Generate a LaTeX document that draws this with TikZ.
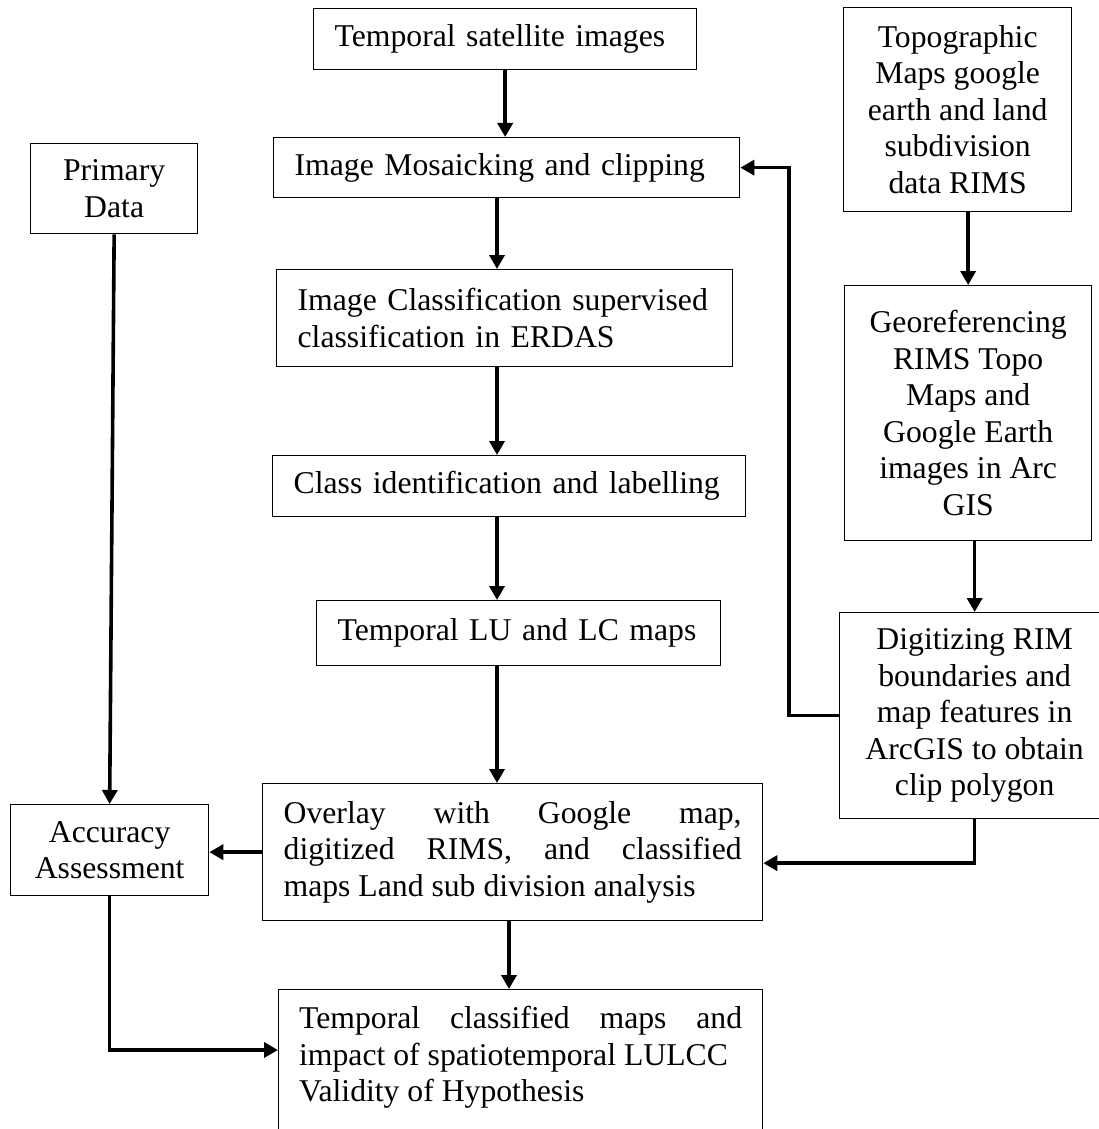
\documentclass[tikz,border=0pt]{standalone}
\usepackage{fontspec}
\setmainfont{Liberation Serif}
\usepackage{tikz}
\usetikzlibrary{arrows.meta, calc}
\newcommand{\boxfont}{\fontsize{31.7}{36.5}\selectfont}
\tikzset{
  stage/.style={rectangle, draw, line width=1.3pt, anchor=north west, align=left, inner xsep=21pt, inner ysep=0pt, font=\boxfont},
  wide/.style={stage, align=justify, inner ysep=17pt},
  source/.style={rectangle, draw, line width=1.3pt, anchor=north west, align=center, inner sep=0pt, font=\boxfont},
  flow/.style={-{Triangle[length=14pt,width=15pt]}, line width=3.6pt},
}
\begin{document}
\begin{tikzpicture}[x=1pt, y=-1pt]
  \useasboundingbox (0,0) rectangle (1099,1129);
  \clip (0,0) rectangle (1099,1129);
  \coordinate (spine) at (497,0);

  % main column
  \node[stage, text width=341pt, minimum height=61pt] (sat) at (313,8) {Temporal satellite images};
  \node[stage, text width=424pt, minimum height=60pt] (mosaic) at (273,137) {Image Mosaicking and clipping};
  \node[stage, text width=414pt, minimum height=97pt] (classify) at (276,269) {Image Classification supervised\\classification in ERDAS};
  \node[stage, text width=431pt, minimum height=61pt] (classid) at (272,455) {Class identification and labelling};
  \node[stage, text width=362pt, minimum height=65pt] (lulc) at (316,600) {Temporal LU and LC maps};
  \node[wide, text width=458pt, minimum height=137pt] (overlay) at (262,783) {Overlay with Google map,\linebreak digitized RIMS, and classified\linebreak maps Land sub division analysis};
  \node[wide, text width=443pt, inner xsep=20.5pt] (final) at (278,989) {Temporal classified maps and\linebreak impact of spatiotemporal LULCC\\Validity of Hypothesis\rule[-60pt]{0pt}{0pt}};

  % left column
  \node[source, minimum width=167pt, minimum height=90pt] (primary) at (30,143) {Primary\\Data};
  \node[source, minimum width=198pt, minimum height=91pt] (accuracy) at (10,804) {Accuracy\\Assessment};

  % right column
  \node[source, minimum width=228pt, minimum height=204pt] (topo) at (843,7) {Topographic\\Maps google\\earth and land\\subdivision\\data RIMS};
  \node[source, minimum width=247pt, minimum height=255pt] (georef) at (844,285) {Georeferencing\\RIMS Topo\\Maps and\\Google Earth\\images in Arc\\GIS};
  \node[source, minimum width=270pt, minimum height=206pt] (digit) at (839,612) {Digitizing RIM\\boundaries and\\map features in\\ArcGIS to obtain\\clip polygon};

  \draw[flow] (sat.south) -- (sat.south |- mosaic.north);
  \draw[flow] (mosaic.south -| spine) -- (classify.north -| spine);
  \draw[flow] (classify.south -| spine) -- (classid.north -| spine);
  \draw[flow] (classid.south -| spine) -- (lulc.north -| spine);
  \draw[flow] (lulc.south -| spine) -- (overlay.north -| spine);
  \draw[flow] ([xshift=12pt]overlay.south -| spine) -- ([xshift=12pt]final.north -| spine);
  \draw[flow] (topo.south -| georef.north) -- (georef.north);
  \draw[flow] (georef.south -| digit.north) -- (digit.north);
  \draw[flow] (digit.west) -- ++(-50,0) |- (mosaic.east);
  \draw[flow] (digit.south) |- ([yshift=-11pt]overlay.east);
  \draw[flow] (overlay.west) -- (overlay.west -| accuracy.east);
  \draw[flow] (primary.south) -- (accuracy.north);
  \draw[flow] (accuracy.south) |- ($(final.north west)+(0,61)$);
\end{tikzpicture}
\end{document}
